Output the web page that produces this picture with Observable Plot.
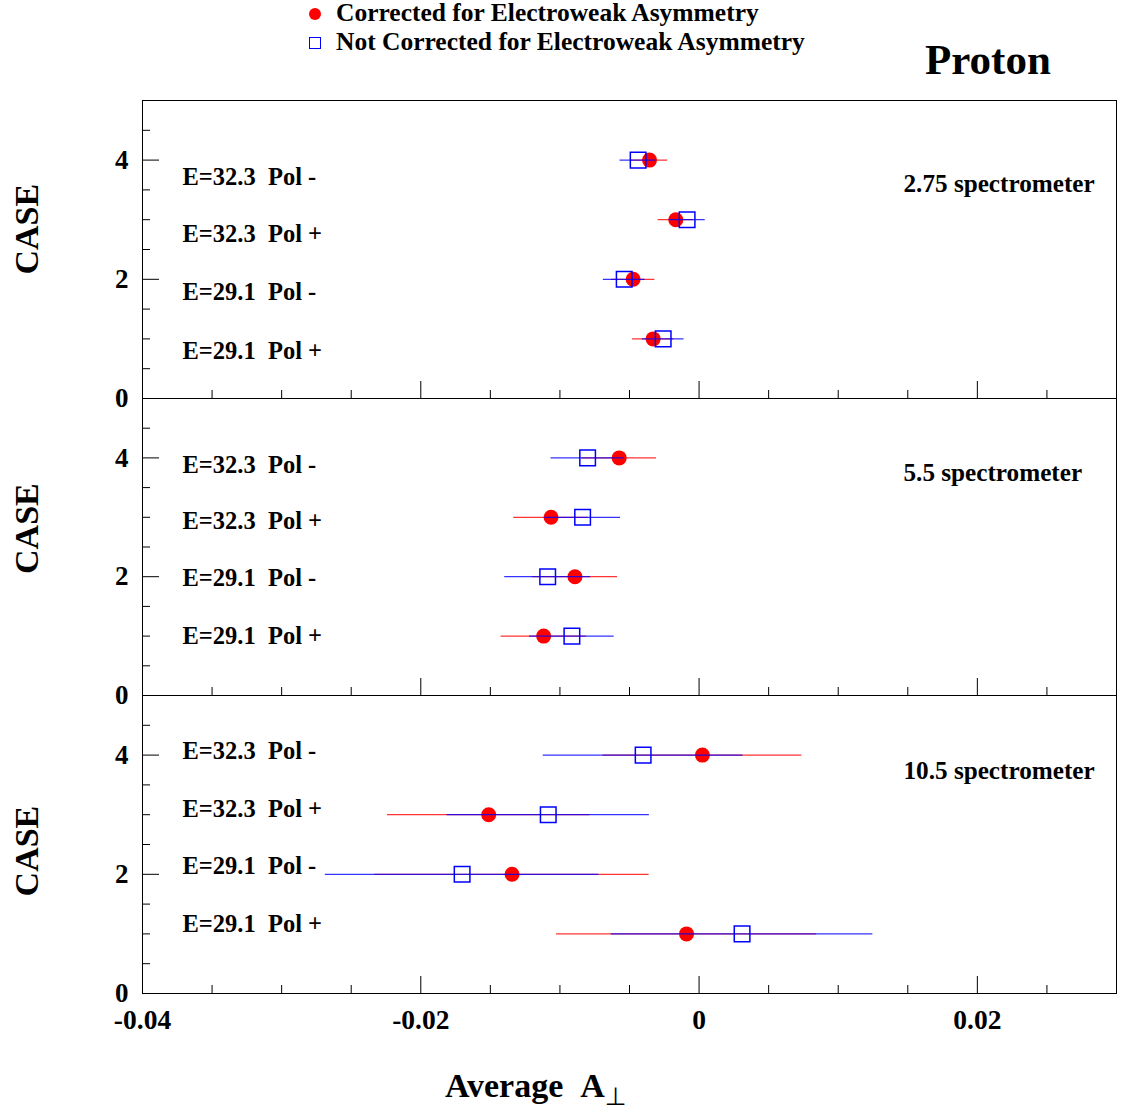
<!DOCTYPE html>
<html>
<head>
<meta charset="utf-8">
<script src="https://cdn.jsdelivr.net/npm/d3@7"></script>
<script src="https://cdn.jsdelivr.net/npm/@observablehq/plot@0.6"></script>
<style>
  html, body { margin: 0; padding: 0; background: white; }
  #chart { position: relative; width: 1122px; height: 1110px; font-family: "Liberation Serif", "Times New Roman", serif; font-weight: bold; color: black; }
  .abs { position: absolute; white-space: pre; line-height: 1; }
</style>
</head>
<body>
<div id="chart"></div>
<script>
// ---------- data ----------
const cases = [4, 3, 2, 1];
const caseLabels = ["E=32.3  Pol -", "E=32.3  Pol +", "E=29.1  Pol -", "E=29.1  Pol +"];
const spectrometers = ["2.75 spectrometer", "5.5 spectrometer", "10.5 spectrometer"];

// Corrected for electroweak asymmetry (per panel, cases 4,3,2,1)
const corrected    = [[-0.00356, -0.00167, -0.00474, -0.00330],
                      [-0.00574, -0.01064, -0.00892, -0.01117],
                      [ 0.00024, -0.01512, -0.01344, -0.00090]];
const correctedErr = [[0.00130, 0.00127, 0.00156, 0.00148],
                      [0.00268, 0.00268, 0.00306, 0.00306],
                      [0.00715, 0.00727, 0.00985, 0.00935]];
// Not corrected for electroweak asymmetry
const uncorrected    = [[-0.00438, -0.00086, -0.00538, -0.00258],
                        [-0.00801, -0.00837, -0.01088, -0.00914],
                        [-0.00402, -0.01084, -0.01703,  0.00309]];
const uncorrectedErr = [[0.00130, 0.00130, 0.00150, 0.00150],
                        [0.00263, 0.00273, 0.00309, 0.00304],
                        [0.00718, 0.00727, 0.00983, 0.00940]];

const xMajor = [-0.04, -0.02, 0, 0.02];
const xMinor = [-0.035, -0.03, -0.025, -0.015, -0.01, -0.005, 0.005, 0.01, 0.015, 0.025];
const yMajor = [0, 2, 4];
const yMinor = [0.5, 1, 1.5, 2.5, 3, 3.5, 4.5];

// ---------- layout (text placement within each panel, in case units) ----------
const caseLabelY = [[3.71, 2.75, 1.78, 0.80],
                    [3.88, 2.93, 1.97, 1.00],
                    [4.07, 3.09, 2.13, 1.16]];
const specLabelY = [3.60, 3.75, 3.73];
const caseTitleY = [2.84, 2.81, 2.39];

const W = 1122, ML = 142, MR = 6, MT = 12, MB = 12;
const panelTop = [100, 398, 695];
const panelH = [298, 297, 298];
const innerW = W - ML - MR;

const chart = document.getElementById("chart");
const fmt = d => d === 0 ? "0" : String(d);
const nb = s => s.replace(/ /g, "\u00a0");

panelTop.forEach((top, i) => {
  const last = i === panelTop.length - 1;
  const mb = last ? 60 : MB;
  const ph = panelH[i];
  const rows = cases.map((c, j) => ({
    c, corr: corrected[i][j], corrErr: correctedErr[i][j],
    unc: uncorrected[i][j], uncErr: uncorrectedErr[i][j]
  }));
  const labels = caseLabels.map((t, j) => ({t, y: caseLabelY[i][j]}));
  const marks = [
    Plot.frame({stroke: "black"}),
    Plot.ruleX(xMajor, {x: d => d, insetTop: ph - 17, stroke: "black"}),
    Plot.ruleX(xMinor, {x: d => d, insetTop: ph - 8, stroke: "black"}),
    Plot.ruleY(yMajor, {y: d => d, insetRight: innerW - 17, stroke: "black"}),
    Plot.ruleY(yMinor, {y: d => d, insetRight: innerW - 8, stroke: "black"}),
    Plot.text(yMajor, {y: d => d, text: d => fmt(d), frameAnchor: "left", textAnchor: "end", dx: -14, fontSize: 27, fontWeight: "bold", fill: "black"}),
    Plot.text(["CASE"], {y: () => caseTitleY[i], text: d => d, frameAnchor: "left", textAnchor: "middle", rotate: -90, dx: -115.5, fontSize: 34, fontWeight: "bold", fill: "black"}),
    Plot.text(labels, {y: "y", text: d => nb(d.t), frameAnchor: "left", textAnchor: "start", dx: 40, fontSize: 24.5, fontWeight: "bold", fill: "black"}),
    Plot.text([spectrometers[i]], {y: () => specLabelY[i], text: d => d, frameAnchor: "left", textAnchor: "start", dx: 761, fontSize: 25.2, fontWeight: "bold", fill: "black"}),
    Plot.ruleY(rows, {y: "c", x1: d => d.corr - d.corrErr, x2: d => d.corr + d.corrErr, stroke: "#ff0000", strokeWidth: 1.2, strokeOpacity: 0.8}),
    Plot.dot(rows, {x: "corr", y: "c", r: 7.5, fill: "#ff0000", stroke: "none"}),
    Plot.ruleY(rows, {y: "c", x1: d => d.unc - d.uncErr, x2: d => d.unc + d.uncErr, stroke: "#0000ff", strokeWidth: 1.2, strokeOpacity: 0.8}),
    Plot.dot(rows, {x: "unc", y: "c", r: 8.8, symbol: "square", fill: "none", stroke: "#0000ff", strokeWidth: 1.5})
  ];
  if (last) {
    marks.push(Plot.text(xMajor, {x: d => d, text: d => fmt(d), frameAnchor: "bottom", lineAnchor: "top", dy: 15.5, fontSize: 27.5, fontWeight: "bold", fill: "black"}));
  }
  const svg = Plot.plot({
    width: W, height: ph + MT + mb,
    marginLeft: ML, marginRight: MR, marginTop: MT, marginBottom: mb,
    x: {domain: [-0.04, 0.03], axis: null},
    y: {domain: [0, 5], axis: null},
    style: {background: "transparent", overflow: "visible", fontFamily: "'Liberation Serif', 'Times New Roman', serif", fontWeight: "bold", color: "black"},
    marks
  });
  svg.style.position = "absolute";
  svg.style.left = "0px";
  svg.style.top = (top - MT) + "px";
  chart.appendChild(svg);
});

// ---------- legend, title, x label ----------
function addDiv(html, css) {
  const d = document.createElement("div");
  d.className = "abs";
  d.innerHTML = html;
  Object.assign(d.style, css);
  chart.appendChild(d);
  return d;
}
// legend markers
addDiv("", {left: "309px", top: "8px", width: "12px", height: "12px", borderRadius: "50%", background: "#ff0000"});
addDiv("", {left: "309px", top: "37px", width: "10px", height: "10px", border: "1.5px solid #0000ff"});
addDiv("Corrected for Electroweak Asymmetry", {left: "336px", top: "0px", fontSize: "25.5px"});
addDiv("Not Corrected for Electroweak Asymmetry", {left: "336px", top: "29px", fontSize: "25.5px"});
addDiv("Proton", {left: "925px", top: "38px", fontSize: "43px"});
addDiv("Average\u00a0\u00a0A<span style=\"font-size:25px;position:relative;top:8px;font-family:'DejaVu Sans';font-weight:normal\">⊥</span>", {left: "445px", top: "1069px", fontSize: "34px"});
</script>
</body>
</html>
